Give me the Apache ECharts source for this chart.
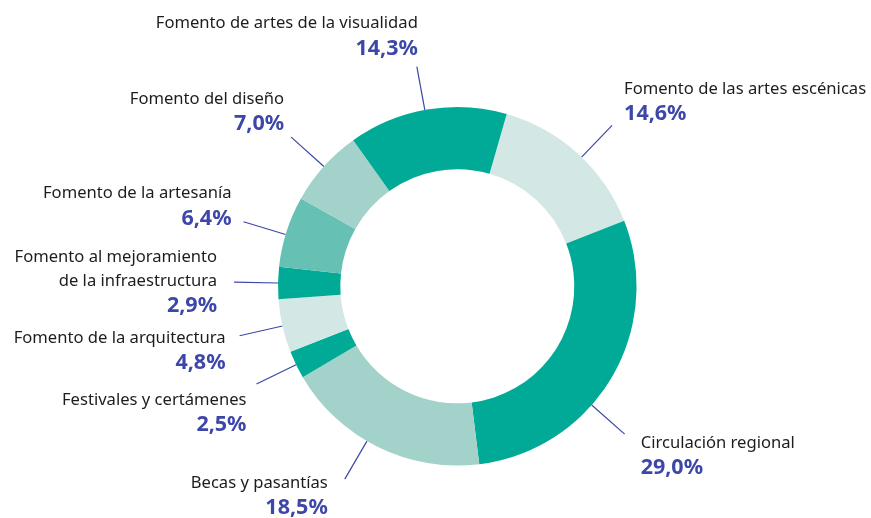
<!DOCTYPE html>
<html>
<head>
<meta charset="utf-8">
<script src="https://cdn.jsdelivr.net/npm/echarts@6/dist/echarts.min.js"></script>
<style>
  html, body { margin: 0; padding: 0; background: #ffffff; }
  #chart { width: 871px; height: 518px; }
</style>
</head>
<body>
<div id="chart"></div>
<script>
// Slices, clockwise from just right of 12 o'clock
const categories = [
  'Fomento de las artes escénicas',
  'Circulación regional',
  'Becas y pasantías',
  'Festivales y certámenes',
  'Fomento de la arquitectura',
  'Fomento al mejoramiento\nde la infraestructura',
  'Fomento de la artesanía',
  'Fomento del diseño',
  'Fomento de artes de la visualidad'
];
const shares = [14.6, 29.0, 18.5, 2.5, 4.8, 2.9, 6.4, 7.0, 14.3];
const sliceColors = ['#D3E8E5', '#00AA96', '#A2D2C9', '#00AA96', '#D3E8E5',
                     '#00AA96', '#66C0B3', '#A2D2C9', '#00AA96'];

// Leader-line angle shift (degrees) from each slice's middle
const lineAngleShift = [1.6, 10.7, 4, 0, 0, 0, -1, 0, -0.7];
// Text block offset from the leader-line end: [dx, dy] to its near edge / top
const labelShift = [[12, -48], [16, -3], [-17, -8], [-10, 4], [-14, -10],
                    [-17, -37], [-12, -40], [-7, -50], [1, -55]];

const CX = 457.3, CY = 286.3, R_IN = 117, R_OUT = 179.3, LEAD = 44;
const START = 74; // degrees, ECharts convention (90 = 12 o'clock)

const total = shares.reduce((a, b) => a + b, 0);
const cum = [];
shares.reduce((acc, v, i) => { cum[i] = acc; return acc + v; }, 0);

function fmt(v) { return v.toFixed(1).replace('.', ',') + '%'; }

const chart = echarts.init(document.getElementById('chart'), null, { renderer: 'canvas' });

chart.setOption({
  backgroundColor: '#ffffff',
  animation: false,
  series: [{
    type: 'pie',
    silent: true,
    center: [CX, CY],
    radius: [R_IN, R_OUT],
    startAngle: START,
    clockwise: true,
    avoidLabelOverlap: false,
    data: categories.map((name, i) => ({
      name: name,
      value: shares[i],
      itemStyle: { color: sliceColors[i] }
    })),
    label: {
      show: true,
      position: 'outside',
      fontFamily: 'Noto Sans',
      formatter: function (p) {
        const lines = p.name.split('\n').map(s => '{n|' + s + '}');
        return lines.join('\n') + '\n{v|' + fmt(p.value) + '}';
      },
      rich: {
        n: { fontFamily: 'Noto Sans', fontSize: 16.6, lineHeight: 24, color: '#1d1d1b' },
        v: { fontFamily: 'Noto Sans', fontSize: 21.5, fontWeight: 'bold', lineHeight: 26, color: '#3D47A9' }
      }
    },
    labelLine: {
      show: true,
      length: 20,
      length2: 0,
      lineStyle: { color: '#3C46A8', width: 1.2 }
    },
    labelLayout: function (p) {
      const i = p.dataIndex;
      const northDeg = (90 - START) + (cum[i] + shares[i] / 2) / total * 360 + lineAngleShift[i];
      const a = northDeg * Math.PI / 180;
      const sx = CX + R_OUT * Math.sin(a), sy = CY - R_OUT * Math.cos(a);
      const ex = CX + (R_OUT + LEAD) * Math.sin(a), ey = CY - (R_OUT + LEAD) * Math.cos(a);
      const onRight = Math.sin(a) > 0;
      return {
        x: ex + labelShift[i][0],
        y: ey + labelShift[i][1],
        align: onRight ? 'left' : 'right',
        verticalAlign: 'top',
        labelLinePoints: [[sx, sy], [ex, ey], [ex, ey]]
      };
    }
  }]
});
</script>
</body>
</html>
